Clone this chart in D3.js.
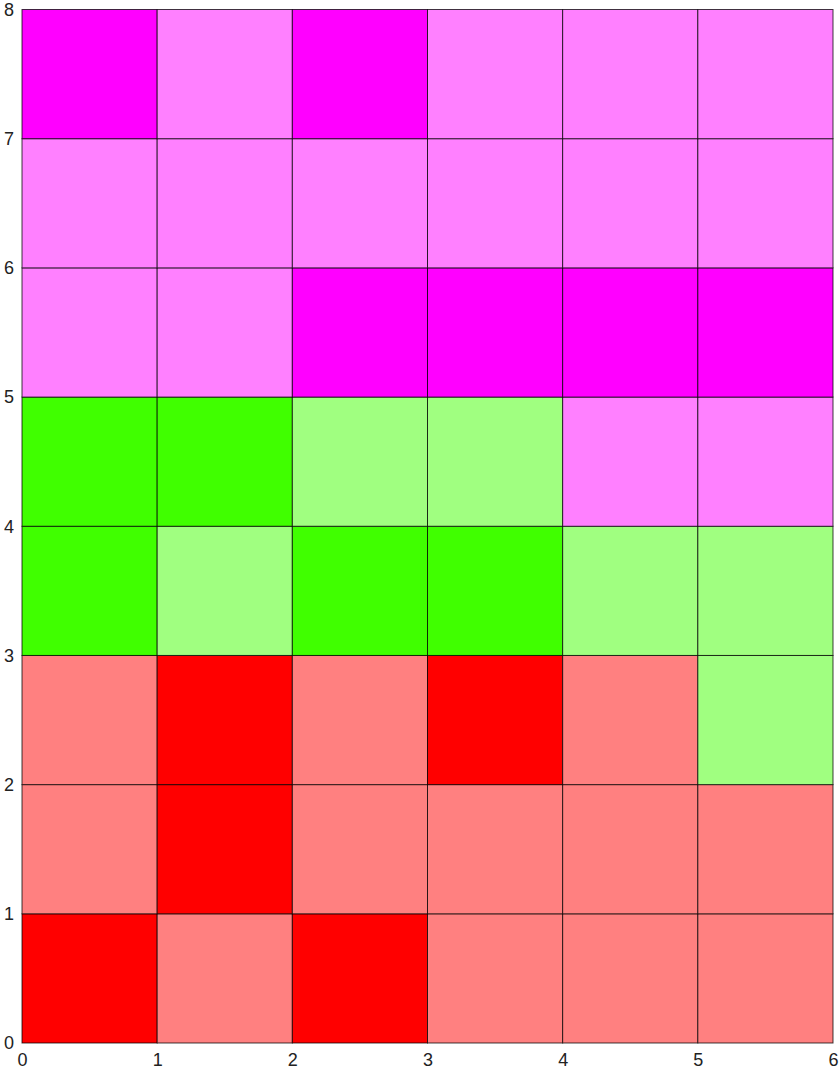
<!DOCTYPE html>
<html><head><meta charset="utf-8">
<script src="https://cdn.jsdelivr.net/npm/d3@7"></script>
<style>body{margin:0;background:#fff;} text{font-family:"Liberation Sans",Arial,sans-serif;}</style>
</head><body>
<svg id="c" width="840" height="1075"></svg>
<script>
const xTicks = [0,1,2,3,4,5,6];
const yTicks = [0,1,2,3,4,5,6,7,8];
// rows from bottom (y=0) to top; codes: R=red, r=light red, G=green, g=light green, M=magenta, m=light magenta
const row0 = ["R","r","R","r","r","r"];
const row1 = ["r","R","r","r","r","r"];
const row2 = ["r","R","r","R","r","g"];
const row3 = ["G","g","G","G","g","g"];
const row4 = ["G","G","g","g","m","m"];
const row5 = ["m","m","M","M","M","M"];
const row6 = ["m","m","m","m","m","m"];
const row7 = ["M","m","M","m","m","m"];
const rows = [row0,row1,row2,row3,row4,row5,row6,row7];
const colorCodes = ["R","r","G","g","M","m"];
const colorValues = ["#ff0000","#ff8080","#40ff00","#a0ff80","#ff00ff","#ff80ff"];

const svg = d3.select("#c");
const x = d3.scaleLinear().domain([0,6]).range([22,833]);
const y = d3.scaleLinear().domain([0,8]).range([1043,9.5]);
const color = d3.scaleOrdinal().domain(colorCodes).range(colorValues);

const cells = [];
rows.forEach((r,i)=>r.forEach((c,j)=>cells.push({i,j,c})));

svg.append("g").selectAll("rect").data(cells).join("rect")
  .attr("x",d=>x(d.j)).attr("y",d=>y(d.i+1))
  .attr("width",d=>x(d.j+1)-x(d.j)).attr("height",d=>y(d.i)-y(d.i+1))
  .attr("fill",d=>color(d.c))
  .attr("stroke","#000").attr("stroke-opacity",0.75).attr("stroke-width",1);

const xa = svg.append("g").attr("transform",`translate(0,1043)`)
  .call(d3.axisBottom(x).tickValues(xTicks).tickFormat(d3.format("d")).tickSize(0).tickPadding(10));
xa.select(".domain").remove();
xa.selectAll("text").attr("font-size",18).attr("fill","#222").attr("font-family","Liberation Sans, Arial, sans-serif");

const ya = svg.append("g").attr("transform",`translate(22,0)`)
  .call(d3.axisLeft(y).tickValues(yTicks).tickFormat(d3.format("d")).tickSize(0).tickPadding(8));
ya.select(".domain").remove();
ya.selectAll("text").attr("font-size",18).attr("fill","#222").attr("font-family","Liberation Sans, Arial, sans-serif");
</script>
</body></html>
